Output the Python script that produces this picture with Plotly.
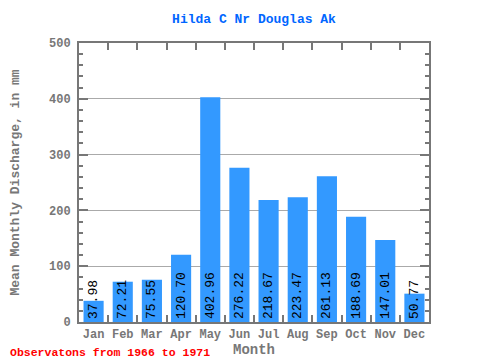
import plotly.graph_objects as go

months = ["Jan", "Feb", "Mar", "Apr", "May", "Jun", "Jul", "Aug", "Sep", "Oct", "Nov", "Dec"]
discharge = [37.98, 72.21, 75.55, 120.70, 402.96, 276.22, 218.67, 223.47, 261.13, 188.69, 147.01, 50.77]
labels = [f"{v:.2f}" for v in discharge]

FONT = "Liberation Mono, DejaVu Sans Mono, monospace"
GRAY = "#777777"

# the page body adds an 8px offset; size the figure to fill the remaining 472x352
W, H = 472, 352
L, R, T, B = 71, 51, 35, 38
PW, PH = W - L - R, H - T - B

fig = go.Figure()
fig.add_trace(go.Bar(
    x=months, y=discharge, marker_color="#3399ff", marker_line_width=0,
    text=labels, textposition="inside", insidetextanchor="start",
    textangle=-90, constraintext="none",
    insidetextfont=dict(family=FONT, size=13, color="black"),
    hoverinfo="x+y",
))

fig.update_layout(
    width=W, height=H,
    margin=dict(l=L, r=R, t=T, b=B, autoexpand=False),
    paper_bgcolor="white", plot_bgcolor="white",
    bargap=0.31,
    showlegend=False,
    title=dict(text="<b>Hilda C Nr Douglas Ak</b>", x=0.5, xanchor="center", xref="paper",
               y=1 - 10/H, yref="container", yanchor="middle", automargin=False,
               font=dict(family=FONT, size=13, color="#0066ff")),
    font=dict(family=FONT, color=GRAY),
)
fig.update_xaxes(
    automargin=False, tickangle=0,
    showline=True, linecolor=GRAY, linewidth=2, mirror="ticks",
    ticks="inside", tickson="boundaries", ticklen=7, tickcolor=GRAY, tickwidth=2,
    tickfont=dict(family=FONT, size=12, color=GRAY, weight="bold"),
    title=dict(text="<b>Month</b>", font=dict(family=FONT, size=14, color=GRAY), standoff=2),
)
fig.update_yaxes(
    automargin=False,
    range=[0, 500], dtick=100, showline=True, linecolor=GRAY, linewidth=2, mirror="ticks",
    ticks="inside", ticklen=9, tickcolor=GRAY, tickwidth=2, ticklabelstandoff=4,
    showgrid=True, gridcolor="#aaaaaa", gridwidth=1,
    minor=dict(dtick=20, ticks="inside", ticklen=4, tickcolor=GRAY, tickwidth=2, showgrid=False),
    tickfont=dict(family=FONT, size=12, color=GRAY, weight="bold"),
    title=dict(text="<b>Mean Monthly Discharge, in mm</b>", font=dict(family=FONT, size=13, color=GRAY), standoff=26),
    zeroline=False,
)
fig.add_annotation(
    text="<b>Observatons from 1966 to 1971</b>", xref="paper", yref="paper",
    x=-L/PW, y=-30/PH, xanchor="left", yanchor="middle", showarrow=False,
    font=dict(family=FONT, size=11.5, color="red"),
)
fig.write_html("out.html")
